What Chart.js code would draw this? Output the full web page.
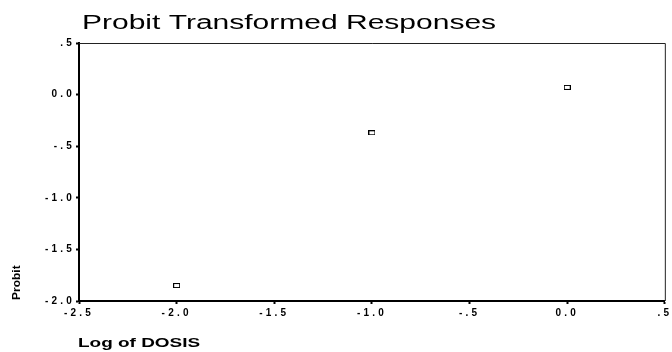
<!DOCTYPE html>
<html>
<head>
<meta charset="utf-8">
<script src="https://cdn.jsdelivr.net/npm/chart.js@4/dist/chart.umd.min.js"></script>
<style>
  html, body { margin: 0; padding: 0; background: #fff; }
  #wrap { width: 672px; height: 352px; }
</style>
</head>
<body>
<div id="wrap"><canvas id="c" width="672" height="352"></canvas></div>
<script>
// Log dose and probit-transformed response
const logDose = [-2.0, -1.0, 0.0];
const probitValues = [-1.85, -0.37, 0.07];

// Axis tick values and their printed labels
const xTickValues = [-2.5, -2.0, -1.5, -1.0, -0.5, 0.0, 0.5];
const xTickLabels = ['-2.5', '-2.0', '-1.5', '-1.0', '-.5', '0.0', '.5'];
const yTickValues = [-2.0, -1.5, -1.0, -0.5, 0.0, 0.5];
const yTickLabels = ['-2.0', '-1.5', '-1.0', '-.5', '0.0', '.5'];

const chartTitle = 'Probit Transformed Responses';
const xTitle = 'Log of DOSIS';
const yTitle = 'Probit';

const FONT = '"Liberation Sans", Arial, sans-serif';

function labelFor(values, labels, v) {
  const i = values.findIndex(t => Math.abs(t - v) < 1e-9);
  return i >= 0 ? labels[i] : '';
}

// Small open rectangle used as the point marker
function makeMarker() {
  const c = document.createElement('canvas');
  c.width = 7; c.height = 5;
  const g = c.getContext('2d');
  g.fillStyle = '#fff';
  g.fillRect(0, 0, 7, 5);
  g.strokeStyle = '#000';
  g.lineWidth = 1;
  g.strokeRect(0.5, 0.5, 6, 4);
  return c;
}

// Wide tick lettering
const spacingPlugin = {
  id: 'tickSpacing',
  beforeDraw(chart) { chart.ctx.letterSpacing = '3.2px'; },
  beforeDatasetsDraw(chart) { chart.ctx.letterSpacing = '0px'; }
};

// Thin top/right frame plus titles in stretched lettering
const framePlugin = {
  id: 'frameAndTitles',
  beforeDatasetsDraw(chart) {
    const { ctx, chartArea: a } = chart;
    ctx.save();
    ctx.strokeStyle = '#222';
    ctx.lineWidth = 1;
    ctx.beginPath();
    ctx.moveTo(a.left, a.top + 0.5);
    ctx.lineTo(a.right + 0.5, a.top + 0.5);
    ctx.lineTo(a.right + 0.5, a.bottom);
    ctx.stroke();
    ctx.restore();
  },
  afterDraw(chart) {
    const { ctx } = chart;
    ctx.save();
    ctx.fillStyle = '#000';
    ctx.textBaseline = 'alphabetic';
    ctx.textAlign = 'left';

    // main title
    ctx.save();
    ctx.font = '20px ' + FONT;
    ctx.translate(82, 28.5);
    ctx.scale(1.5, 1);
    ctx.fillText(chartTitle, 0, 0);
    ctx.restore();

    // x-axis title
    ctx.save();
    ctx.font = 'bold 12px ' + FONT;
    ctx.translate(78, 347);
    ctx.scale(1.58, 1);
    ctx.fillText(xTitle, 0, 0);
    ctx.restore();

    // y-axis title
    ctx.save();
    ctx.font = 'bold 10px ' + FONT;
    ctx.translate(20, 300);
    ctx.rotate(-Math.PI / 2);
    ctx.scale(1.2, 1);
    ctx.fillText(yTitle, 0, 0);
    ctx.restore();

    ctx.restore();
  }
};

new Chart(document.getElementById('c'), {
  type: 'scatter',
  data: {
    datasets: [{
      data: logDose.map((x, i) => ({ x: x, y: probitValues[i] })),
      pointStyle: makeMarker(),
      pointRadius: 3,
      showLine: false
    }]
  },
  options: {
    responsive: false,
    animation: false,
    devicePixelRatio: 1,
    layout: { padding: { top: 43, right: 5, bottom: 0, left: 0 } },
    plugins: {
      legend: { display: false },
      title: { display: false },
      tooltip: { enabled: false }
    },
    scales: {
      x: {
        type: 'linear',
        min: -2.5,
        max: 0.5,
        afterBuildTicks(scale) { scale.ticks = xTickValues.map(v => ({ value: v })); },
        afterFit(scale) { scale.height = 51; },
        border: { display: true, color: '#000', width: 2 },
        grid: { drawOnChartArea: false, drawTicks: true, tickLength: 3, tickWidth: 2, color: '#000' },
        ticks: {
          padding: 3,
          maxRotation: 0,
          autoSkip: false,
          color: '#000',
          font: { family: FONT, size: 10, weight: 'bold' },
          callback: v => labelFor(xTickValues, xTickLabels, v)
        }
      },
      y: {
        type: 'linear',
        min: -2.0,
        max: 0.5,
        afterBuildTicks(scale) { scale.ticks = yTickValues.map(v => ({ value: v })); },
        afterFit(scale) { scale.width = 79; },
        border: { display: true, color: '#000', width: 2 },
        grid: { drawOnChartArea: false, drawTicks: true, tickLength: 3, tickWidth: 2, color: '#000' },
        ticks: {
          padding: 1,
          autoSkip: false,
          color: '#000',
          font: { family: FONT, size: 10, weight: 'bold' },
          callback: v => labelFor(yTickValues, yTickLabels, v)
        }
      }
    }
  },
  plugins: [spacingPlugin, framePlugin]
});
</script>
</body>
</html>
